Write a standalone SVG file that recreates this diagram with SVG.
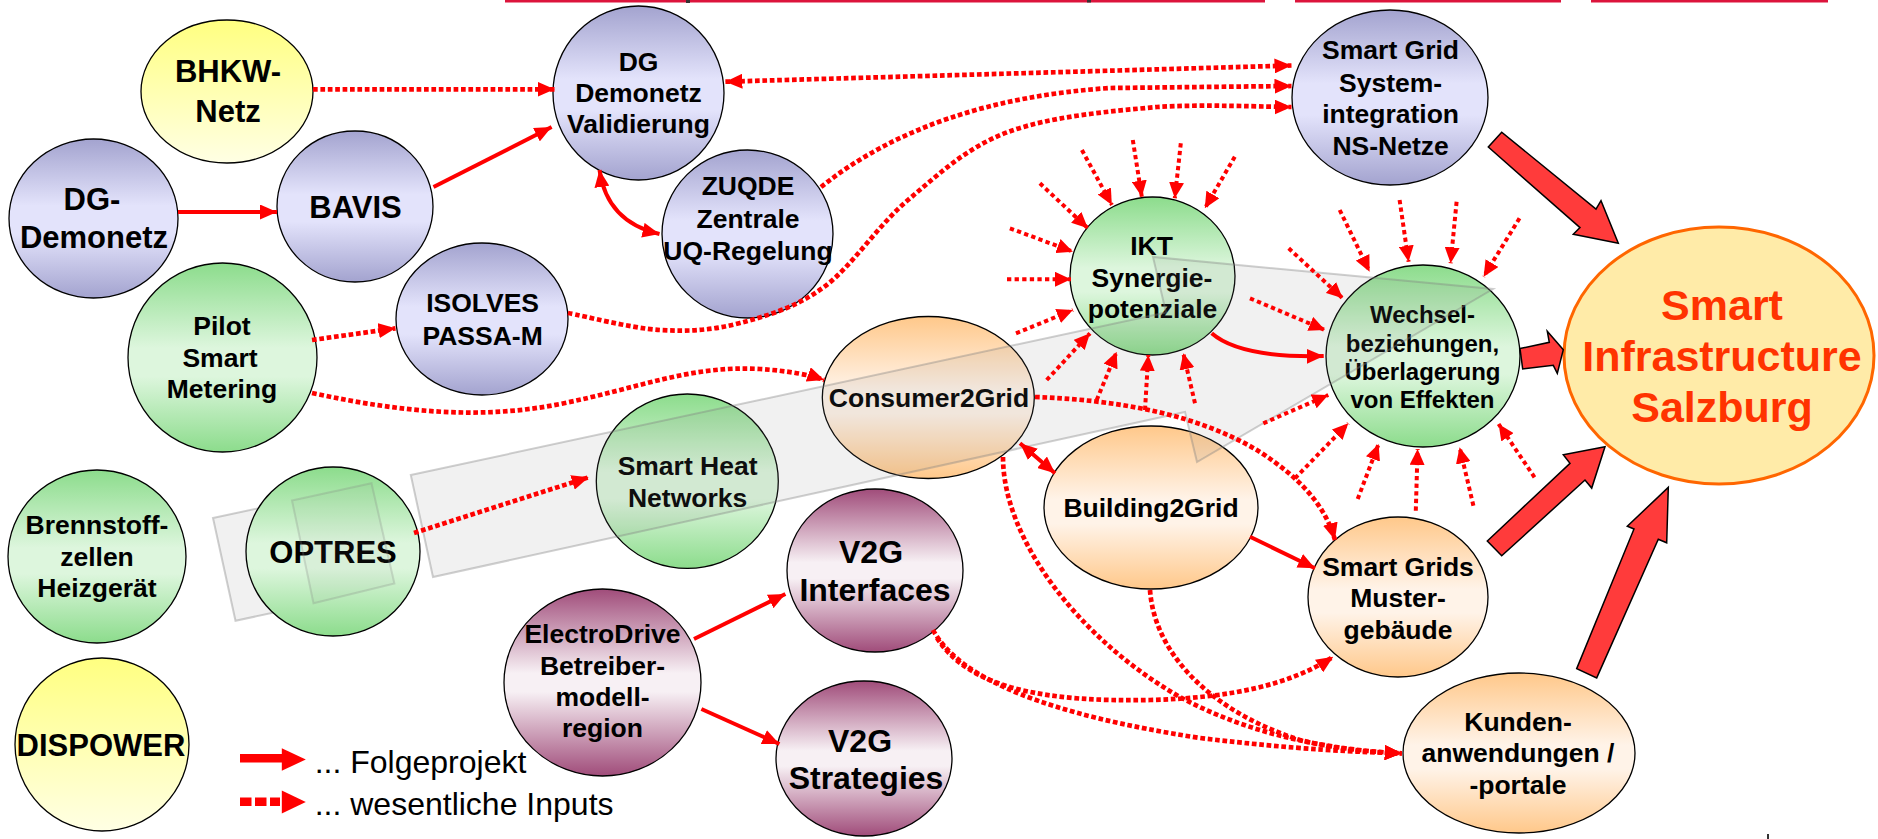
<svg xmlns="http://www.w3.org/2000/svg" width="1878" height="839" viewBox="0 0 1878 839">
<style>
.nd{stroke:#000;stroke-width:1.3}
.t{font-family:"Liberation Sans",Arial,sans-serif;font-weight:bold;text-anchor:middle;fill:#000}
.f26{font-size:26.5px}
.f31{font-size:31px}
.f32{font-size:32px}
.f24{font-size:24px}
.d{fill:none;stroke:#FF0000;stroke-width:4.7;stroke-dasharray:4.7 2.7;marker-end:url(#ad)}
.r{fill:none;stroke:#FF0000;stroke-width:4;stroke-dasharray:4.3 3.3;marker-end:url(#ar)}
.s{fill:none;stroke:#FF0000;stroke-width:4;marker-end:url(#as)}
.blk{fill:#FF3B3B;stroke:#000;stroke-width:1.5;stroke-linejoin:miter}
.band{fill:#808080;fill-opacity:0.11;stroke:#808080;stroke-opacity:0.38;stroke-width:2}
.bandi{fill:#808080;fill-opacity:0.06;stroke:#808080;stroke-opacity:0.25;stroke-width:2}
.leg{font-family:"Liberation Sans",Arial,sans-serif;font-size:32px;fill:#000}
</style>
<defs>
<linearGradient id="gB" x1="0" y1="0" x2="0" y2="1"><stop offset="0" stop-color="#A3A3CF"/><stop offset="0.42" stop-color="#E3E3FB"/><stop offset="0.6" stop-color="#E3E3FB"/><stop offset="1" stop-color="#A3A3CF"/></linearGradient>
<linearGradient id="gG" x1="0" y1="0" x2="0" y2="1"><stop offset="0" stop-color="#8CDC8C"/><stop offset="0.45" stop-color="#DDF6DD"/><stop offset="0.6" stop-color="#DDF6DD"/><stop offset="1" stop-color="#8CDC8C"/></linearGradient>
<linearGradient id="gO" x1="0" y1="0" x2="0" y2="1"><stop offset="0" stop-color="#FFC88A"/><stop offset="0.45" stop-color="#FFF3E8"/><stop offset="0.6" stop-color="#FFF3E8"/><stop offset="1" stop-color="#FFC88A"/></linearGradient>
<linearGradient id="gP" x1="0" y1="0" x2="0" y2="1"><stop offset="0" stop-color="#A04C7A"/><stop offset="0.45" stop-color="#F7F0F4"/><stop offset="0.55" stop-color="#F7F0F4"/><stop offset="1" stop-color="#A04C7A"/></linearGradient>
<linearGradient id="gY" x1="0" y1="0" x2="0" y2="1"><stop offset="0" stop-color="#FFFF80"/><stop offset="1" stop-color="#FFFFE4"/></linearGradient>
<marker id="ad" markerUnits="userSpaceOnUse" markerWidth="17" markerHeight="15" refX="17" refY="7.5" orient="auto-start-reverse"><path d="M0,0 L17,7.5 L0,15 z" fill="#FF0000"/></marker>
<marker id="ar" markerUnits="userSpaceOnUse" markerWidth="16" markerHeight="15" refX="16" refY="7.5" orient="auto"><path d="M0,0 L16,7.5 L0,15 z" fill="#FF0000"/></marker>
<marker id="as" markerUnits="userSpaceOnUse" markerWidth="17" markerHeight="15" refX="17" refY="7.5" orient="auto-start-reverse"><path d="M0,0 L17,7.5 L0,15 z" fill="#FF0000"/></marker>
</defs>
<rect width="1878" height="839" fill="#FFFFFF"/>
<g id="top-rules" fill="#DC143C">
<rect x="505" y="0" width="760" height="2.5"/>
<rect x="1295" y="0" width="266" height="2.5"/>
<rect x="1591" y="0" width="237" height="2.5"/>
</g>
<g id="marks" fill="#333">
<rect x="686" y="0" width="4" height="3"/>
<rect x="1087" y="0" width="4" height="2.5"/>
<rect x="1767" y="834" width="2" height="5"/>
</g>
<g id="band-back">
<polygon class="band" points="213,518 330,493 352,596 235.5,620.7"/>
</g>
<g id="nodes">
<g id="n-bhkw"><ellipse class="nd" cx="227" cy="91.5" rx="86" ry="71.5" fill="url(#gY)"/><text class="t f31" x="228" y="81.7">BHKW-</text><text class="t f31" x="228" y="121.7">Netz</text></g>
<g id="n-dgval"><ellipse class="nd" cx="638.5" cy="93" rx="85.5" ry="87" fill="url(#gB)"/><text class="t f26" x="638.5" y="70.7">DG</text><text class="t f26" x="638.5" y="101.7">Demonetz</text><text class="t f26" x="638.5" y="133.3">Validierung</text></g>
<g id="n-dgdemo"><ellipse class="nd" cx="93.5" cy="218.5" rx="84.5" ry="79.5" fill="url(#gB)"/><text class="t f31" x="92" y="210">DG-</text><text class="t f31" x="94" y="248.3">Demonetz</text></g>
<g id="n-bavis"><ellipse class="nd" cx="355" cy="206.5" rx="78" ry="75.5" fill="url(#gB)"/><text class="t f31" x="355.5" y="218.3">BAVIS</text></g>
<g id="n-zuqde"><ellipse class="nd" cx="747.5" cy="234" rx="85.5" ry="84" fill="url(#gB)"/><text class="t f26" x="748" y="195">ZUQDE</text><text class="t f26" x="748" y="228.3">Zentrale</text><text class="t f26" x="748" y="260">UQ-Regelung</text></g>
<g id="n-isolves"><ellipse class="nd" cx="482" cy="319" rx="86" ry="76" fill="url(#gB)"/><text class="t f26" x="482.6" y="312">ISOLVES</text><text class="t f26" x="482.6" y="344.5">PASSA-M</text></g>
<g id="n-pilot"><ellipse class="nd" cx="222.5" cy="357.5" rx="94.5" ry="94.5" fill="url(#gG)"/><text class="t f26" x="222" y="335">Pilot</text><text class="t f26" x="220" y="366.7">Smart</text><text class="t f26" x="222" y="398.3">Metering</text></g>
<g id="n-sgsys"><ellipse class="nd" cx="1390" cy="97.5" rx="98" ry="87.5" fill="url(#gB)"/><text class="t f26" x="1390.6" y="59.3">Smart Grid</text><text class="t f26" x="1390.6" y="91.7">System-</text><text class="t f26" x="1390.6" y="123.3">integration</text><text class="t f26" x="1390.6" y="155">NS-Netze</text></g>
<g id="n-ikt"><ellipse class="nd" cx="1152.5" cy="276" rx="82.5" ry="79" fill="url(#gG)"/><text class="t f26" x="1151.5" y="255">IKT</text><text class="t f26" x="1152" y="286.7">Synergie-</text><text class="t f26" x="1152.5" y="318.3">potenziale</text></g>
<g id="n-wechsel"><ellipse class="nd" cx="1423" cy="356" rx="97" ry="91" fill="url(#gG)"/><text class="t f24" x="1422.5" y="323">Wechsel-</text><text class="t f24" x="1422.5" y="351.5">beziehungen,</text><text class="t f24" x="1422.5" y="380">Überlagerung</text><text class="t f24" x="1422.5" y="408">von Effekten</text></g>
<g id="n-sis"><ellipse cx="1719" cy="355.5" rx="155" ry="128.5" fill="#FFEBA8" stroke="#FF6600" stroke-width="3"/><text class="t" style="font-size:43px;fill:#FF3300" x="1722" y="320">Smart</text><text class="t" style="font-size:43px;fill:#FF3300" x="1722" y="371">Infrastructure</text><text class="t" style="font-size:43px;fill:#FF3300" x="1722" y="422">Salzburg</text></g>
<g id="n-consumer"><ellipse class="nd" cx="928.3" cy="397.5" rx="106" ry="81" fill="url(#gO)"/><text class="t f26" x="929" y="406.7">Consumer2Grid</text></g>
<g id="n-brenn"><ellipse class="nd" cx="97" cy="556.5" rx="89" ry="86.5" fill="url(#gG)"/><text class="t f26" x="97" y="534">Brennstoff-</text><text class="t f26" x="97" y="565.7">zellen</text><text class="t f26" x="97" y="597.3">Heizgerät</text></g>
<g id="n-optres"><ellipse class="nd" cx="333" cy="551.5" rx="87" ry="84.5" fill="url(#gG)"/><text class="t f31" x="333" y="563.3">OPTRES</text></g>
<g id="n-heat"><ellipse class="nd" cx="687.3" cy="481.2" rx="91" ry="87.2" fill="url(#gG)"/><text class="t f26" x="687.6" y="475">Smart Heat</text><text class="t f26" x="687.6" y="506.7">Networks</text></g>
<g id="n-dispower"><ellipse class="nd" cx="102" cy="744.5" rx="87" ry="86.5" fill="url(#gY)"/><text class="t f31" x="101" y="756.3">DISPOWER</text></g>
<g id="n-electro"><ellipse class="nd" cx="602.5" cy="682.5" rx="98.5" ry="93.5" fill="url(#gP)"/><text class="t f26" x="602.5" y="643">ElectroDrive</text><text class="t f26" x="602.5" y="675">Betreiber-</text><text class="t f26" x="602.5" y="706.3">modell-</text><text class="t f26" x="602.5" y="737.3">region</text></g>
<g id="n-v2gi"><ellipse class="nd" cx="875" cy="570.5" rx="88" ry="81.5" fill="url(#gP)"/><text class="t f32" x="871" y="563">V2G</text><text class="t f32" x="875" y="600.7">Interfaces</text></g>
<g id="n-v2gs"><ellipse class="nd" cx="864" cy="758.5" rx="88" ry="77.5" fill="url(#gP)"/><text class="t f32" x="860" y="752.3">V2G</text><text class="t f32" x="866" y="789">Strategies</text></g>
<g id="n-building"><ellipse class="nd" cx="1151" cy="507.5" rx="107" ry="81.5" fill="url(#gO)"/><text class="t f26" x="1151" y="517.3">Building2Grid</text></g>
<g id="n-muster"><ellipse class="nd" cx="1398" cy="597" rx="90" ry="80" fill="url(#gO)"/><text class="t f26" x="1398" y="575.7">Smart Grids</text><text class="t f26" x="1398" y="607.3">Muster-</text><text class="t f26" x="1398" y="639">gebäude</text></g>
<g id="n-kunden"><ellipse class="nd" cx="1519" cy="753" rx="116" ry="80" fill="url(#gO)"/><text class="t f26" x="1518" y="730.7">Kunden-</text><text class="t f26" x="1518" y="762.3">anwendungen /</text><text class="t f26" x="1518" y="794">-portale</text></g>
</g>
<g id="band-front">
<polygon class="bandi" points="292,500.5 371.5,483.3 394.4,583.5 313.5,603.3"/>
<polygon class="band" points="410.8,475 1166,312.5 1153,257 1493,289 1197,462 1185,412 433,577"/>
</g>
<g id="connectors">
<path class="s" d="M178,212 L277,212"/>
<path class="s" d="M433.5,187 L551.6,127"/>
<path class="s" d="M599.5,170 Q607,222 659.5,234" marker-start="url(#as)"/>
<path class="s" d="M694,639 L785.4,594"/>
<path class="s" d="M701.4,709 L779.4,744"/>
<path class="s" d="M1211.7,333.3 Q1240,358 1323.7,356"/>
<path class="s" d="M1020,443.3 L1055,473.3" marker-start="url(#as)"/>
<path class="s" d="M1250,536.7 L1315,568.3"/>
<path class="d" d="M313,89.3 L554.6,89.3"/>
<path class="d" d="M725.4,81.7 L1291.5,65.5" marker-start="url(#ad)"/>
<path class="d" d="M821,187 Q930,100 1110,88 L1291.5,86"/>
<path class="d" d="M568,313 C583.3,315.8 631.3,328.3 660,330 C688.7,331.7 712.7,330.2 740,323 C767.3,315.8 796,307.5 824,287 C852,266.5 877.3,225.8 908,200 C938.7,174.2 966.5,147.5 1008,132 C1049.5,116.5 1109.8,111.2 1157,107 C1204,104 1268.7,107 1291.5,107"/>
<path class="d" d="M312,340 L395.5,328.3"/>
<path class="d" d="M312,393 C400,412 480,420 560,404 C640,388 690,365 760,369 C790,371 810,375 824.3,380"/>
<path class="d" d="M414,533 L588.7,477.3"/>
<path class="d" d="M1035,397 C1120,400 1200,415 1260,452 C1300,478 1325,505 1335,540"/>
<path class="d" d="M1003,457 C1003,540 1080,640 1180,697 C1250,735 1330,750 1401.7,753.3"/>
<path class="d" d="M1150,590 C1155,660 1220,715 1300,740 C1340,750 1370,752 1401.7,753.3"/>
<path class="d" d="M933,630 C960,680 1050,715 1200,738 C1300,750 1360,752 1401.7,753.3"/>
<path class="d" d="M937,638 C970,690 1050,702 1150,700 C1230,698 1290,685 1333.3,656.7"/>
<path class="r" d="M1081.9,150 L1111.9,205"/>
<path class="r" d="M1132.8,140 L1141.8,196.7"/>
<path class="r" d="M1180.8,143.3 L1174.8,198.3"/>
<path class="r" d="M1234.8,156.7 L1204.8,208.3"/>
<path class="r" d="M1039.9,183.3 L1087.9,228.3"/>
<path class="r" d="M1009.9,228.3 L1072.9,251.7"/>
<path class="r" d="M1007,279.3 L1071,279.3"/>
<path class="r" d="M1016,333.3 L1072.9,310"/>
<path class="r" d="M1046.7,380 L1090,333.3"/>
<path class="r" d="M1096.7,400 L1116.7,351.7"/>
<path class="r" d="M1145,410 L1148.3,355"/>
<path class="r" d="M1195,403.3 L1183.3,353.3"/>
<path class="r" d="M1339.7,210 L1369.6,271.7"/>
<path class="r" d="M1399.6,200 L1408.6,261.7"/>
<path class="r" d="M1456.6,201.7 L1450.6,263.3"/>
<path class="r" d="M1519.5,218.3 L1483.6,276.7"/>
<path class="r" d="M1288.7,248.3 L1342.7,298.3"/>
<path class="r" d="M1250,298.3 L1325,330"/>
<path class="r" d="M1263.3,423.3 L1328.3,395"/>
<path class="r" d="M1295,478.3 L1348.3,423.3"/>
<path class="r" d="M1357.7,499 L1378.6,444"/>
<path class="r" d="M1415.8,510.7 L1417.6,449"/>
<path class="r" d="M1473.4,505.7 L1459.6,447.3"/>
<path class="r" d="M1534.5,477.3 L1498.6,424"/>
<polygon class="blk" points="1488.3,147 1580,227.6 1573.3,234.3 1618.3,243.2 1601,200.6 1596,209.1 1501.7,132.2"/>
<polygon class="blk" points="1520,348.6 1549.3,342.3 1547.3,331.2 1563.3,349.7 1557.3,373.4 1553.3,365.3 1522.7,369"/>
<polygon class="blk" points="1487.3,541 1570,463.3 1563.3,454.8 1605,446.7 1591.7,488.1 1585,480 1501.7,555.8"/>
<polygon class="blk" points="1576.7,668.6 1634,529 1627.3,526.2 1668.3,487.4 1666.7,542.8 1658.3,539.2 1596.7,677.9"/>
</g>
<g id="legend">
<rect x="240" y="754" width="42.5" height="8.5" fill="#FF0000"/>
<polygon points="281.8,748.3 305.8,759.5 281.8,770.7" fill="#FF0000"/>
<rect x="240" y="797.5" width="11.5" height="8.5" fill="#FF0000"/>
<rect x="255" y="797.5" width="11.5" height="8.5" fill="#FF0000"/>
<rect x="270" y="797.5" width="10" height="8.5" fill="#FF0000"/>
<polygon points="281.8,790.5 305.8,802 281.8,813.5" fill="#FF0000"/>
<text class="leg" x="314.7" y="773.3">... Folgeprojekt</text>
<text class="leg" x="314.7" y="815">... wesentliche Inputs</text>
</g>
</svg>
